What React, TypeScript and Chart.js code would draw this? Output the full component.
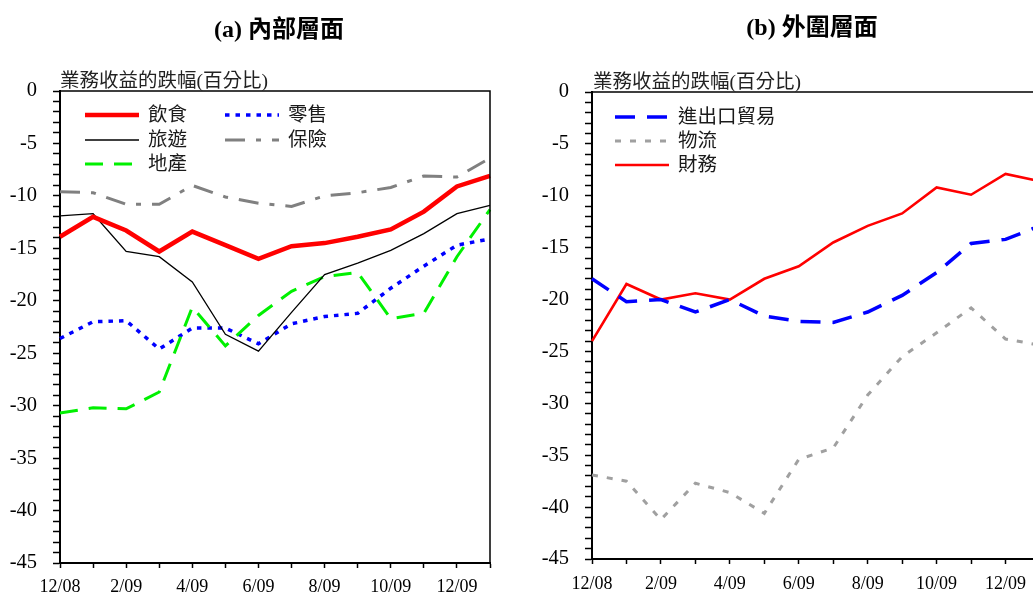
import { useEffect, useRef } from 'react'
import { Chart, registerables } from 'chart.js'
import type { Plugin } from 'chart.js'

Chart.register(...registerables)

// 月份 (12/08 - 1/10)
const MONTHS = ['12/08', '1/09', '2/09', '3/09', '4/09', '5/09', '6/09', '7/09', '8/09', '9/09', '10/09', '11/09', '12/09', '1/10']

// (a) 內部層面
const FOOD = [-13.9, -12.0, -13.3, -15.3, -13.4, -14.7, -16.0, -14.8, -14.5, -13.9, -13.2, -11.5, -9.1, -8.1]
const TOURISM = [-11.9, -11.7, -15.3, -15.8, -18.2, -23.2, -24.8, -21.1, -17.5, -16.4, -15.2, -13.6, -11.7, -10.9]
const PROPERTY = [-30.7, -30.2, -30.3, -28.7, -20.6, -24.3, -21.4, -19.1, -17.7, -17.3, -21.7, -21.2, -15.8, -11.3]
const RETAIL = [-23.6, -22.0, -21.9, -24.6, -22.6, -22.6, -24.1, -22.2, -21.5, -21.2, -18.8, -16.7, -14.7, -14.1]
const INSURANCE = [-9.6, -9.7, -10.8, -10.8, -9.0, -10.1, -10.7, -11.0, -10.0, -9.7, -9.2, -8.1, -8.2, -6.4]

// (b) 外圍層面
const TRADE = [-18.0, -20.2, -20.0, -21.2, -20.0, -21.6, -22.1, -22.2, -21.2, -19.6, -17.4, -14.6, -14.2, -12.9]
const LOGISTICS = [-36.9, -37.5, -41.2, -37.7, -38.6, -40.6, -35.4, -34.3, -29.2, -25.5, -23.2, -20.8, -23.8, -24.4]
const FINANCE = [-24.0, -18.5, -20.0, -19.4, -20.0, -18.0, -16.8, -14.5, -12.9, -11.7, -9.2, -9.9, -7.9, -8.6]

const Y_MIN = -45
const Y_MAX = 0
const Y_LABEL_STEP = 5

const AXIS_CAPTION = '業務收益的跌幅(百分比)'

const SERIF = '"Liberation Serif", "Noto Sans CJK TC", serif'

interface Series {
  label: string
  data: number[]
  color: string
  width: number
  dash: number[]
}

const INNER: Series[] = [
  { label: '飲食', data: FOOD, color: '#ff0000', width: 4.5, dash: [] },
  { label: '旅遊', data: TOURISM, color: '#000000', width: 1.3, dash: [] },
  { label: '地產', data: PROPERTY, color: '#00f000', width: 3, dash: [18, 11] },
  { label: '零售', data: RETAIL, color: '#0000ff', width: 3.5, dash: [4.5, 6] },
  { label: '保險', data: INSURANCE, color: '#808080', width: 3, dash: [20, 11, 5, 11] },
]

const OUTER: Series[] = [
  { label: '進出口貿易', data: TRADE, color: '#0000ff', width: 3.5, dash: [20, 12] },
  { label: '物流', data: LOGISTICS, color: '#a0a0a0', width: 3, dash: [6, 9] },
  { label: '財務', data: FINANCE, color: '#ff0000', width: 2.6, dash: [] },
]

const framePlugin: Plugin = {
  id: 'frame',
  afterDatasetsDraw(chart) {
    const { ctx, chartArea: a } = chart
    ctx.save()
    ctx.strokeStyle = '#000'
    ctx.lineWidth = 1.5
    ctx.beginPath()
    ctx.moveTo(a.left, a.top)
    ctx.lineTo(a.right, a.top)
    ctx.lineTo(a.right, a.bottom)
    ctx.stroke()
    ctx.restore()
  },
}

interface PanelProps {
  series: Series[]
  axisWidth: number
  axisHeight: number
  top: number
  right: number
  xPad: number
}

function LinePanel({ series, axisWidth, axisHeight, top, right, xPad }: PanelProps) {
  const canvasRef = useRef<HTMLCanvasElement>(null)

  useEffect(() => {
    if (!canvasRef.current) return
    const chart = new Chart(canvasRef.current, {
      type: 'line',
      data: {
        labels: MONTHS,
        datasets: series.map(s => ({
          label: s.label,
          data: s.data,
          borderColor: s.color,
          backgroundColor: s.color,
          borderWidth: s.width,
          borderDash: s.dash,
          borderCapStyle: 'butt',
          pointRadius: 0,
          tension: 0,
          fill: false,
        })),
      },
      options: {
        animation: false,
        responsive: true,
        maintainAspectRatio: false,
        layout: { padding: { top, right, left: 0, bottom: 0 } },
        plugins: { legend: { display: false }, tooltip: { enabled: false } },
        scales: {
          x: {
            type: 'category',
            offset: false,
            afterFit: (scale) => { scale.height = axisHeight },
            grid: { display: true, drawOnChartArea: false, drawTicks: true, tickLength: 5, tickWidth: 1.5, tickColor: '#000' },
            border: { display: true, color: '#000', width: 2 },
            ticks: {
              autoSkip: false,
              maxRotation: 0,
              padding: xPad,
              color: '#000',
              font: { family: SERIF, size: 18 },
              callback: (_v, i) => (i % 2 === 0 && i < MONTHS.length - 1 ? MONTHS[i] : ''),
            },
          },
          y: {
            type: 'linear',
            min: Y_MIN,
            max: Y_MAX,
            afterFit: (scale) => { scale.width = axisWidth },
            grid: { display: true, drawOnChartArea: false, drawTicks: true, tickLength: 7, tickWidth: 1.5, tickColor: '#000' },
            border: { display: true, color: '#000', width: 2 },
            ticks: {
              stepSize: 1,
              maxTicksLimit: 100,
              autoSkip: false,
              padding: 16,
              color: '#000',
              font: { family: SERIF, size: 20.5 },
              callback: (v) => (Number(v) % Y_LABEL_STEP === 0 ? String(v) : ''),
            },
          },
        },
      },
      plugins: [framePlugin],
    })
    return () => { chart.destroy() }
  }, [series, axisWidth, axisHeight, top, right, xPad])

  return <canvas ref={canvasRef} />
}

interface LegendItem {
  s: Series
  x: number
  y: number
}

function LegendEntry({ s, x, y }: LegendItem) {
  return (
    <div style={{ position: 'absolute', left: x, top: y - 13, height: 26, display: 'flex', alignItems: 'center', whiteSpace: 'nowrap' }}>
      <svg width="54" height="10" aria-hidden="true" style={{ display: 'block' }}>
        <line x1="0" y1="5" x2="54" y2="5" stroke={s.color} strokeWidth={s.width} strokeDasharray={s.dash.join(',')} />
      </svg>
      <span style={{ marginLeft: 9, fontFamily: SERIF, fontSize: 19.5, color: '#1a1a1a', lineHeight: '26px' }}>{s.label}</span>
    </div>
  )
}

export default function App() {
  useEffect(() => {
    document.body.style.margin = '0'
  }, [])

  const titleStyle: React.CSSProperties = {
    position: 'absolute', top: 15, width: 300, textAlign: 'center',
    fontFamily: SERIF, fontWeight: 'bold', fontSize: 24, lineHeight: '28px', color: '#000',
  }
  const captionStyle: React.CSSProperties = {
    position: 'absolute', top: 71, fontFamily: SERIF, fontSize: 19.5, lineHeight: '20px', color: '#222', whiteSpace: 'nowrap',
  }

  return (
    <div style={{ position: 'fixed', left: 0, top: 0, width: 1033, height: 593, overflow: 'hidden', background: '#fff' }}>
      <div style={{ position: 'absolute', left: 0, top: 0, width: 510, height: 593 }}>
        <LinePanel series={INNER} axisWidth={60} axisHeight={30} top={91} right={20} xPad={8} />
      </div>
      <div style={{ position: 'absolute', left: 520, top: 0, width: 540, height: 593 }}>
        <LinePanel series={OUTER} axisWidth={72} axisHeight={34} top={92} right={20} xPad={9} />
      </div>

      <div style={{ ...titleStyle, left: 129 }}>(a) 內部層面</div>
      <div style={{ ...titleStyle, left: 662, top: 13 }}>(b) 外圍層面</div>

      <div style={{ ...captionStyle, left: 60 }}>{AXIS_CAPTION}</div>
      <div style={{ ...captionStyle, left: 593, top: 72 }}>{AXIS_CAPTION}</div>

      <LegendEntry s={INNER[0]} x={85} y={115} />
      <LegendEntry s={INNER[1]} x={85} y={140} />
      <LegendEntry s={INNER[2]} x={85} y={164} />
      <LegendEntry s={INNER[3]} x={225} y={115} />
      <LegendEntry s={INNER[4]} x={225} y={140} />

      <LegendEntry s={OUTER[0]} x={615} y={117} />
      <LegendEntry s={OUTER[1]} x={615} y={141} />
      <LegendEntry s={OUTER[2]} x={615} y={165} />
    </div>
  )
}
